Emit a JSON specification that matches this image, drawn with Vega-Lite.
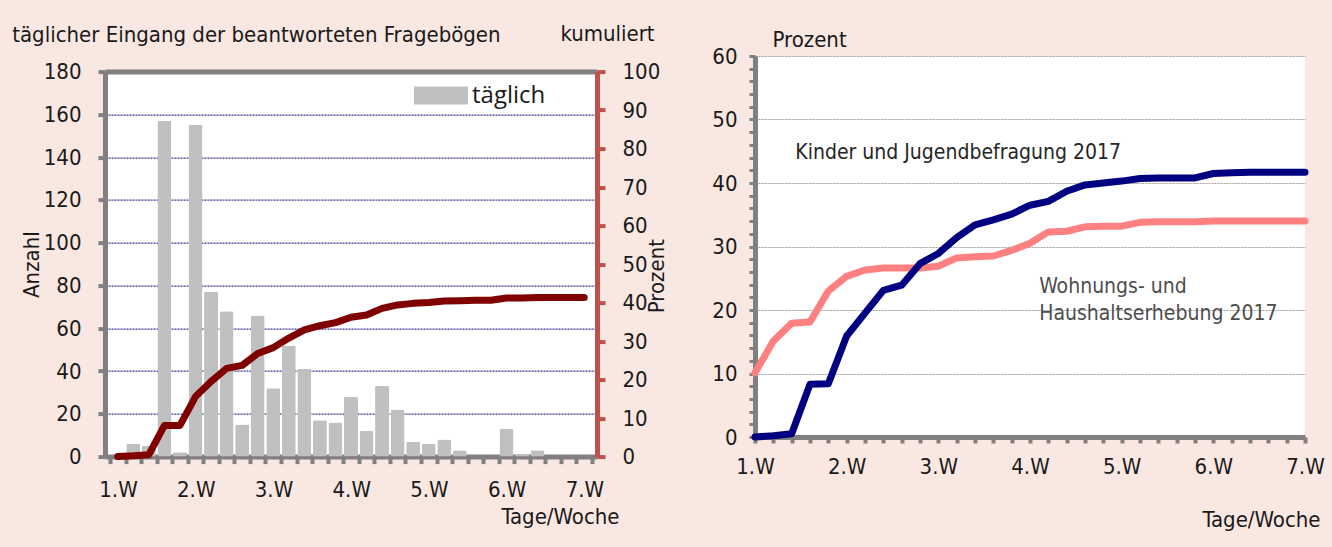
{
  "$schema": "https://vega.github.io/schema/vega-lite/v6.json",
  "background": "#f9e7e1",
  "padding": {"left": 12, "top": 22, "right": 10, "bottom": 20},
  "autosize": {"type": "pad"},
  "config": {
    "font": "Liberation Sans Narrow, DejaVu Sans Condensed, sans-serif",
    "view": {"fill": "white", "stroke": null},
    "axis": {
      "labelFont": "Liberation Sans Narrow, DejaVu Sans Condensed, sans-serif",
      "titleFont": "Liberation Sans Narrow, DejaVu Sans Condensed, sans-serif",
      "labelFontSize": 22, "titleFontSize": 22,
      "titleFontWeight": "normal",
      "labelColor": "#1a1a1a", "titleColor": "#1a1a1a"
    },
    "title": {"font": "Liberation Sans Narrow, DejaVu Sans Condensed, sans-serif", "fontWeight": "normal", "fontSize": 22, "color": "#1a1a1a"}
  },
  "datasets": {
    "daily": [
      {"day": 0, "count": 0, "pct": 0},
      {"day": 1, "count": 6, "pct": 0.2},
      {"day": 2, "count": 5, "pct": 0.5},
      {"day": 3, "count": 157, "pct": 8.1},
      {"day": 4, "count": 2, "pct": 8.1},
      {"day": 5, "count": 155, "pct": 15.6},
      {"day": 6, "count": 77, "pct": 19.5},
      {"day": 7, "count": 68, "pct": 22.9},
      {"day": 8, "count": 15, "pct": 23.7},
      {"day": 9, "count": 66, "pct": 26.8},
      {"day": 10, "count": 32, "pct": 28.3},
      {"day": 11, "count": 52, "pct": 30.8},
      {"day": 12, "count": 41, "pct": 32.9},
      {"day": 13, "count": 17, "pct": 34.0},
      {"day": 14, "count": 16, "pct": 34.8},
      {"day": 15, "count": 28, "pct": 36.2},
      {"day": 16, "count": 12, "pct": 36.8},
      {"day": 17, "count": 33, "pct": 38.5},
      {"day": 18, "count": 22, "pct": 39.4},
      {"day": 19, "count": 7, "pct": 39.8},
      {"day": 20, "count": 6, "pct": 40.0},
      {"day": 21, "count": 8, "pct": 40.4},
      {"day": 22, "count": 3, "pct": 40.5},
      {"day": 23, "count": 0, "pct": 40.6},
      {"day": 24, "count": 0, "pct": 40.6},
      {"day": 25, "count": 13, "pct": 41.2},
      {"day": 26, "count": 1, "pct": 41.2},
      {"day": 27, "count": 3, "pct": 41.3},
      {"day": 28, "count": 0, "pct": 41.3},
      {"day": 29, "count": 0, "pct": 41.3},
      {"day": 30, "count": 0, "pct": 41.3}
    ],
    "series": [
      {"day": 0, "pct": 10.1, "series": "Wohnungs- und Haushaltserhebung 2017"},
      {"day": 1, "pct": 15.1, "series": "Wohnungs- und Haushaltserhebung 2017"},
      {"day": 2, "pct": 17.9, "series": "Wohnungs- und Haushaltserhebung 2017"},
      {"day": 3, "pct": 18.1, "series": "Wohnungs- und Haushaltserhebung 2017"},
      {"day": 4, "pct": 23.0, "series": "Wohnungs- und Haushaltserhebung 2017"},
      {"day": 5, "pct": 25.3, "series": "Wohnungs- und Haushaltserhebung 2017"},
      {"day": 6, "pct": 26.3, "series": "Wohnungs- und Haushaltserhebung 2017"},
      {"day": 7, "pct": 26.6, "series": "Wohnungs- und Haushaltserhebung 2017"},
      {"day": 8, "pct": 26.6, "series": "Wohnungs- und Haushaltserhebung 2017"},
      {"day": 9, "pct": 26.6, "series": "Wohnungs- und Haushaltserhebung 2017"},
      {"day": 10, "pct": 26.9, "series": "Wohnungs- und Haushaltserhebung 2017"},
      {"day": 11, "pct": 28.2, "series": "Wohnungs- und Haushaltserhebung 2017"},
      {"day": 12, "pct": 28.4, "series": "Wohnungs- und Haushaltserhebung 2017"},
      {"day": 13, "pct": 28.5, "series": "Wohnungs- und Haushaltserhebung 2017"},
      {"day": 14, "pct": 29.4, "series": "Wohnungs- und Haushaltserhebung 2017"},
      {"day": 15, "pct": 30.5, "series": "Wohnungs- und Haushaltserhebung 2017"},
      {"day": 16, "pct": 32.3, "series": "Wohnungs- und Haushaltserhebung 2017"},
      {"day": 17, "pct": 32.4, "series": "Wohnungs- und Haushaltserhebung 2017"},
      {"day": 18, "pct": 33.1, "series": "Wohnungs- und Haushaltserhebung 2017"},
      {"day": 19, "pct": 33.2, "series": "Wohnungs- und Haushaltserhebung 2017"},
      {"day": 20, "pct": 33.2, "series": "Wohnungs- und Haushaltserhebung 2017"},
      {"day": 21, "pct": 33.8, "series": "Wohnungs- und Haushaltserhebung 2017"},
      {"day": 22, "pct": 33.9, "series": "Wohnungs- und Haushaltserhebung 2017"},
      {"day": 23, "pct": 33.9, "series": "Wohnungs- und Haushaltserhebung 2017"},
      {"day": 24, "pct": 33.9, "series": "Wohnungs- und Haushaltserhebung 2017"},
      {"day": 25, "pct": 34.0, "series": "Wohnungs- und Haushaltserhebung 2017"},
      {"day": 26, "pct": 34.0, "series": "Wohnungs- und Haushaltserhebung 2017"},
      {"day": 27, "pct": 34.0, "series": "Wohnungs- und Haushaltserhebung 2017"},
      {"day": 28, "pct": 34.0, "series": "Wohnungs- und Haushaltserhebung 2017"},
      {"day": 29, "pct": 34.0, "series": "Wohnungs- und Haushaltserhebung 2017"},
      {"day": 30, "pct": 34.0, "series": "Wohnungs- und Haushaltserhebung 2017"},
      {"day": 0, "pct": 0.0, "series": "Kinder und Jugendbefragung 2017"},
      {"day": 1, "pct": 0.2, "series": "Kinder und Jugendbefragung 2017"},
      {"day": 2, "pct": 0.5, "series": "Kinder und Jugendbefragung 2017"},
      {"day": 3, "pct": 8.3, "series": "Kinder und Jugendbefragung 2017"},
      {"day": 4, "pct": 8.4, "series": "Kinder und Jugendbefragung 2017"},
      {"day": 5, "pct": 15.9, "series": "Kinder und Jugendbefragung 2017"},
      {"day": 6, "pct": 19.5, "series": "Kinder und Jugendbefragung 2017"},
      {"day": 7, "pct": 23.1, "series": "Kinder und Jugendbefragung 2017"},
      {"day": 8, "pct": 23.9, "series": "Kinder und Jugendbefragung 2017"},
      {"day": 9, "pct": 27.3, "series": "Kinder und Jugendbefragung 2017"},
      {"day": 10, "pct": 28.9, "series": "Kinder und Jugendbefragung 2017"},
      {"day": 11, "pct": 31.4, "series": "Kinder und Jugendbefragung 2017"},
      {"day": 12, "pct": 33.4, "series": "Kinder und Jugendbefragung 2017"},
      {"day": 13, "pct": 34.2, "series": "Kinder und Jugendbefragung 2017"},
      {"day": 14, "pct": 35.1, "series": "Kinder und Jugendbefragung 2017"},
      {"day": 15, "pct": 36.5, "series": "Kinder und Jugendbefragung 2017"},
      {"day": 16, "pct": 37.1, "series": "Kinder und Jugendbefragung 2017"},
      {"day": 17, "pct": 38.7, "series": "Kinder und Jugendbefragung 2017"},
      {"day": 18, "pct": 39.7, "series": "Kinder und Jugendbefragung 2017"},
      {"day": 19, "pct": 40.0, "series": "Kinder und Jugendbefragung 2017"},
      {"day": 20, "pct": 40.3, "series": "Kinder und Jugendbefragung 2017"},
      {"day": 21, "pct": 40.7, "series": "Kinder und Jugendbefragung 2017"},
      {"day": 22, "pct": 40.8, "series": "Kinder und Jugendbefragung 2017"},
      {"day": 23, "pct": 40.8, "series": "Kinder und Jugendbefragung 2017"},
      {"day": 24, "pct": 40.8, "series": "Kinder und Jugendbefragung 2017"},
      {"day": 25, "pct": 41.5, "series": "Kinder und Jugendbefragung 2017"},
      {"day": 26, "pct": 41.6, "series": "Kinder und Jugendbefragung 2017"},
      {"day": 27, "pct": 41.7, "series": "Kinder und Jugendbefragung 2017"},
      {"day": 28, "pct": 41.7, "series": "Kinder und Jugendbefragung 2017"},
      {"day": 29, "pct": 41.7, "series": "Kinder und Jugendbefragung 2017"},
      {"day": 30, "pct": 41.7, "series": "Kinder und Jugendbefragung 2017"}
    ],
    "notes": [
      {"day": 2.2, "pct": 44.8, "label": "Kinder und Jugendbefragung 2017", "tone": "dark"},
      {"day": 15.5, "pct": 23.6, "label": "Wohnungs- und\nHaushaltserhebung 2017", "tone": "grey"}
    ]
  },
  "spacing": 44,
  "hconcat": [
    {
      "spacing": -35.4,
      "vconcat": [
        {
          "width": 492,
          "height": 2,
          "view": {"fill": null, "stroke": null},
          "data": {"values": []},
          "mark": "point"
        },
        {
          "width": 492,
          "height": 385,
          "title": {"text": "täglicher Eingang der beantworteten Fragebögen", "anchor": "start", "frame": "bounds", "dx": -8, "offset": -24},
          "data": {"name": "daily"},
          "resolve": {"scale": {"y": "independent"}, "axis": {"x": "independent"}},
          "layer": [
            {
              "mark": {"type": "bar", "width": 14, "cornerRadius": 1.5},
              "encoding": {
                "x": {
                  "field": "day", "type": "quantitative",
                  "scale": {"domain": [-0.5, 30.5], "nice": false, "zero": false},
                  "axis": {
                    "values": [-0.5, 0.5, 1.5, 2.5, 3.5, 4.5, 5.5, 6.5, 7.5, 8.5, 9.5, 10.5, 11.5, 12.5, 13.5, 14.5, 15.5, 16.5, 17.5, 18.5, 19.5, 20.5, 21.5, 22.5, 23.5, 24.5, 25.5, 26.5, 27.5, 28.5, 29.5, 30.5],
                    "labelExpr": "(datum.value + 0.5) % 5 === 0 && datum.value < 30 ? ((datum.value + 0.5) / 5 + 1) + '.W' : ''",
                    "labelOffset": 8, "labelFlush": false, "labelOverlap": false, "labelPadding": 16,
                    "tickSize": 7, "tickWidth": 4, "tickColor": "#808080",
                    "domainColor": "#808080", "domainWidth": 5, "grid": false,
                    "title": "Tage/Woche", "titleAlign": "right", "titleAnchor": "end", "titleX": 514, "titleY": 60, "titleBaseline": "middle"
                  }
                },
                "y": {
                  "field": "count", "type": "quantitative",
                  "scale": {"domain": [0, 180], "nice": false},
                  "axis": {
                    "values": [0, 20, 40, 60, 80, 100, 120, 140, 160, 180],
                    "grid": true, "gridColor": "#000080", "gridDash": [2, 1], "gridWidth": 1,
                    "domainColor": "#808080", "domainWidth": 5,
                    "tickColor": "#808080", "tickSize": 7, "tickWidth": 4,
                    "labelPadding": 17, "title": "Anzahl", "titlePadding": 0
                  }
                },
                "color": {
                  "datum": "täglich", "type": "nominal",
                  "scale": {"range": ["#c0c0c0"]},
                  "legend": {
                    "orient": "none", "legendX": 309, "legendY": 12.6, "title": null, "padding": 0,
                    "symbolType": "M-1,-0.333H1V0.333H-1Z", "symbolSize": 2916, "symbolStrokeWidth": 0, "symbolOpacity": 1,
                    "labelFont": "Open Sans", "labelFontSize": 24, "labelColor": "#1a1a1a", "labelOffset": 4
                  }
                }
              }
            },
            {
              "mark": {"type": "line", "color": "#800000", "strokeWidth": 7, "strokeCap": "round", "strokeJoin": "round"},
              "encoding": {
                "x": {
                  "field": "day", "type": "quantitative",
                  "axis": {
                    "orient": "top", "labels": false, "ticks": false, "grid": false,
                    "domainColor": "#808080", "domainWidth": 5,
                    "title": "kumuliert", "titleX": 502, "titleY": -38, "titleAlign": "center", "titleBaseline": "middle"
                  }
                },
                "y": {
                  "field": "pct", "type": "quantitative",
                  "scale": {"domain": [0, 100], "nice": false},
                  "axis": {
                    "orient": "right",
                    "values": [0, 10, 20, 30, 40, 50, 60, 70, 80, 90, 100],
                    "grid": false,
                    "domainColor": "#c0504d", "domainWidth": 5,
                    "tickColor": "#c0504d", "tickSize": 8, "tickWidth": 4,
                    "labelPadding": 17,
                    "title": "Prozent", "titleAngle": -90, "titleX": 59, "titleY": 204, "titleAlign": "center", "titleBaseline": "middle"
                  }
                }
              }
            }
          ]
        }
      ]
    },
    {
      "width": 550,
      "height": 381,
      "encoding": {
        "x": {
          "field": "day", "type": "quantitative",
          "scale": {"domain": [0, 30], "nice": false, "zero": false},
          "axis": {
            "values": [0, 1, 2, 3, 4, 5, 6, 7, 8, 9, 10, 11, 12, 13, 14, 15, 16, 17, 18, 19, 20, 21, 22, 23, 24, 25, 26, 27, 28, 29, 30],
            "labelExpr": "datum.value % 5 === 0 ? (datum.value / 5 + 1) + '.W' : ''",
            "labelFlush": false, "labelOverlap": false, "labelPadding": 13,
            "tickSize": 6, "tickWidth": 4, "tickColor": "#808080",
            "domainColor": "#808080", "domainWidth": 5, "grid": false,
            "title": "Tage/Woche", "titleAlign": "right", "titleAnchor": "end", "titleX": 565, "titleY": 82, "titleBaseline": "middle"
          }
        },
        "y": {
          "field": "pct", "type": "quantitative",
          "scale": {"domain": [0, 60], "nice": false},
          "axis": {
            "values": [0, 2, 4, 6, 8, 10, 12, 14, 16, 18, 20, 22, 24, 26, 28, 30, 32, 34, 36, 38, 40, 42, 44, 46, 48, 50, 52, 54, 56, 58, 60],
            "labelExpr": "datum.value % 10 === 0 ? datum.label : ''",
            "labelOverlap": false, "labelFlush": false, "labelPadding": 12,
            "grid": true, "gridColor": "#a0a0a0", "gridDash": [2, 1], "gridWidth": 1,
            "gridOpacity": {"condition": {"test": "datum.value % 10 === 0", "value": 1}, "value": 0},
            "tickSize": 6, "tickWidth": 3, "tickColor": "#808080",
            "domainColor": "#808080", "domainWidth": 5,
            "title": "Prozent", "titleAngle": 0, "titleAlign": "left", "titleX": 17, "titleY": -17, "titleBaseline": "middle"
          }
        }
      },
      "layer": [
        {
          "data": {"name": "series"},
          "mark": {"type": "line", "strokeWidth": 7, "strokeCap": "round", "strokeJoin": "round"},
          "encoding": {
            "color": {
              "field": "series", "type": "nominal",
              "scale": {"domain": ["Wohnungs- und Haushaltserhebung 2017", "Kinder und Jugendbefragung 2017"], "range": ["#ff8080", "#000080"]},
              "legend": null
            }
          }
        },
        {
          "data": {"name": "notes"},
          "mark": {"type": "text", "align": "left", "baseline": "middle", "fontSize": 21, "lineBreak": "\n", "lineHeight": 27},
          "encoding": {
            "text": {"field": "label"},
            "color": {
              "field": "tone", "type": "nominal",
              "scale": {"domain": ["dark", "grey"], "range": ["#262626", "#4d4d4d"]},
              "legend": null
            }
          }
        }
      ],
      "resolve": {"scale": {"color": "independent"}}
    }
  ]
}
